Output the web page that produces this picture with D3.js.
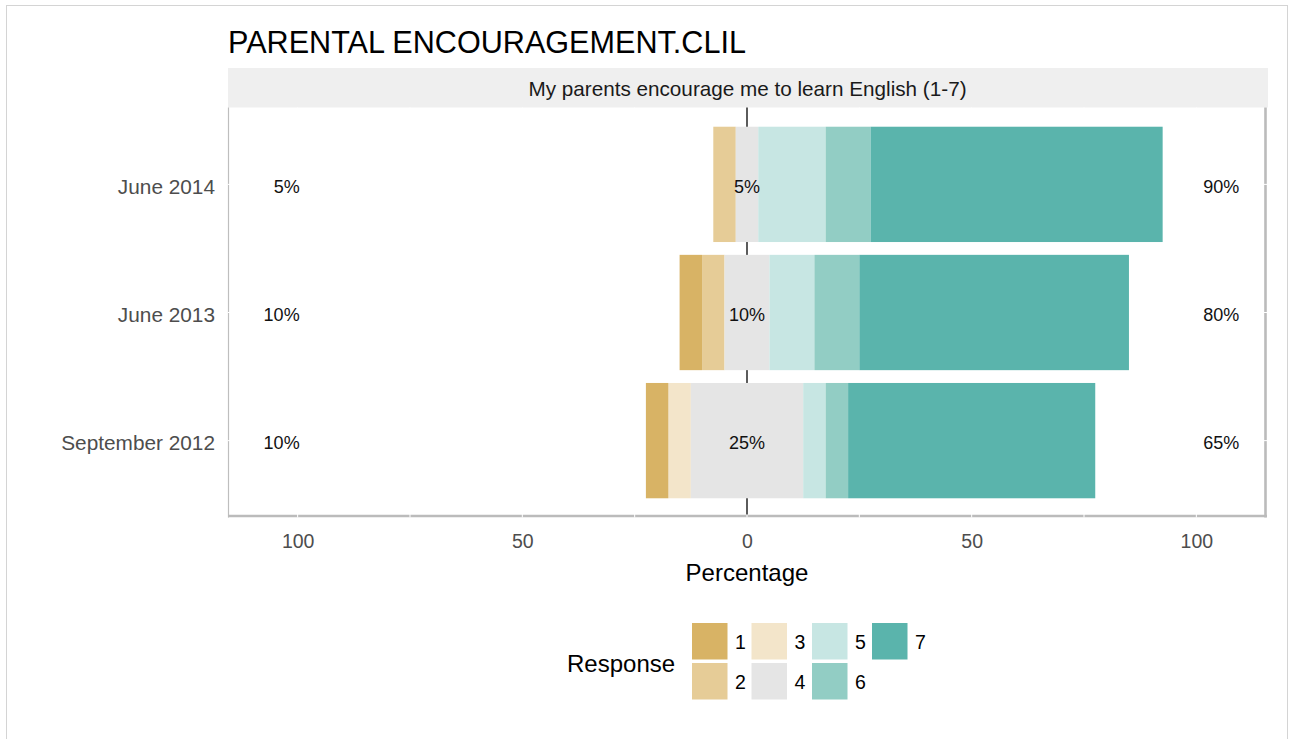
<!DOCTYPE html>
<html>
<head>
<meta charset="utf-8">
<script src="https://cdn.jsdelivr.net/npm/d3@7"></script>
<style>
  html, body { margin: 0; padding: 0; background: #ffffff; }
  svg { display: block; font-family: "Liberation Sans", Arial, sans-serif; }
</style>
</head>
<body>
<svg id="chart" width="1292" height="739"></svg>
<script>
// Survey waves (bottom to top) and share of answers per response level (%)
const categories = ["September 2012", "June 2013", "June 2014"];
const responses = ["1", "2", "3", "4", "5", "6", "7"];
const resp1 = [5, 5, 0];
const resp2 = [0, 5, 5];
const resp3 = [5, 0, 0];
const resp4 = [25, 10, 5];
const resp5 = [5, 10, 15];
const resp6 = [5, 10, 10];
const resp7 = [55, 60, 65];
const xTicks = [-100, -50, 0, 50, 100];
const colors = ["#D8B365", "#E6CC97", "#F3E5CA", "#E5E5E5", "#C7E6E3", "#92CDC4", "#5AB4AC"];
const titleText = "PARENTAL ENCOURAGEMENT.CLIL";
const stripText = "My parents encourage me to learn English (1-7)";

const series = [resp1, resp2, resp3, resp4, resp5, resp6, resp7];

const svg = d3.select("#chart");

// Outer frame
svg.append("rect")
  .attr("x", 6.5).attr("y", 5.5).attr("width", 1281).attr("height", 800)
  .attr("fill", "none").attr("stroke", "#D4D4D4").attr("stroke-width", 1);

const panel = { left: 228, right: 1267, top: 107.5, bottom: 517.5 };

const x = d3.scaleLinear().domain([-115.5, 115.5]).range([panel.left, panel.right - 1]);
const y = d3.scalePoint().domain(categories.slice().reverse())
  .range([panel.top, panel.bottom]).padding(0.6);
const barH = y.step() * 0.9;

// Title
svg.append("text")
  .attr("x", 228).attr("y", 53)
  .attr("font-size", 30.6).attr("fill", "#000")
  .text(titleText);

// Facet strip
svg.append("rect")
  .attr("x", panel.left).attr("y", 68).attr("width", panel.right - panel.left + 1).attr("height", panel.top - 68)
  .attr("fill", "#EFEFEF");
svg.append("text")
  .attr("x", (panel.left + panel.right) / 2).attr("y", 95.5)
  .attr("text-anchor", "middle").attr("font-size", 20.7).attr("fill", "#1A1A1A")
  .text(stripText);

// Panel border (light left edge, heavier bottom/right edge)
svg.append("line")
  .attr("x1", panel.left + 0.5).attr("x2", panel.left + 0.5)
  .attr("y1", panel.top).attr("y2", panel.bottom)
  .attr("stroke", "#BEBEBE").attr("stroke-width", 1.2);
svg.append("line")
  .attr("x1", panel.left).attr("x2", panel.right)
  .attr("y1", panel.bottom - 1.5).attr("y2", panel.bottom - 1.5)
  .attr("stroke", "#BBBBBB").attr("stroke-width", 2.6);
svg.append("line")
  .attr("x1", panel.right - 1.5).attr("x2", panel.right - 1.5)
  .attr("y1", panel.top).attr("y2", panel.bottom)
  .attr("stroke", "#BBBBBB").attr("stroke-width", 2.6);

// White grid lines (only show where they cross the border)
const grid = svg.append("g");
d3.range(-100, 101, 25).forEach(v => {
  grid.append("line")
    .attr("x1", x(v)).attr("x2", x(v))
    .attr("y1", panel.top).attr("y2", panel.bottom)
    .attr("stroke", "#fff").attr("stroke-width", 1);
});
categories.forEach(c => {
  grid.append("line")
    .attr("x1", panel.left).attr("x2", panel.right)
    .attr("y1", y(c)).attr("y2", y(c))
    .attr("stroke", "#fff").attr("stroke-width", 1);
});

// Zero reference line
svg.append("line")
  .attr("x1", x(0)).attr("x2", x(0))
  .attr("y1", panel.top).attr("y2", panel.bottom - 3)
  .attr("stroke", "#333").attr("stroke-width", 1.6);

// Diverging stacked bars: levels 1-3 to the left, 4 centred, 5-7 to the right
const segments = [];
categories.forEach((c, i) => {
  const neutral = resp4[i];
  let left = -neutral / 2;
  for (let k = 2; k >= 0; k--) {
    const v = series[k][i];
    if (v > 0) segments.push({ cat: c, k, x0: left - v, x1: left });
    left -= v;
  }
  segments.push({ cat: c, k: 3, x0: -neutral / 2, x1: neutral / 2 });
  let right = neutral / 2;
  for (let k = 4; k < 7; k++) {
    const v = series[k][i];
    if (v > 0) segments.push({ cat: c, k, x0: right, x1: right + v });
    right += v;
  }
});

svg.append("g").selectAll("rect").data(segments).join("rect")
  .attr("x", d => x(d.x0))
  .attr("width", d => x(d.x1) - x(d.x0))
  .attr("y", d => y(d.cat) - barH / 2)
  .attr("height", barH)
  .attr("fill", d => colors[d.k]);

// Percentage labels: low (1-3), neutral (4), high (5-7)
const lbl = svg.append("g").attr("font-size", 18).attr("fill", "#111");
categories.forEach((c, i) => {
  const low = resp1[i] + resp2[i] + resp3[i];
  const high = resp5[i] + resp6[i] + resp7[i];
  const yy = y(c) + 8.5;
  lbl.append("text").attr("x", x(-100) + 2).attr("y", yy).attr("text-anchor", "end").text(low + "%");
  lbl.append("text").attr("x", x(0)).attr("y", yy).attr("text-anchor", "middle").text(resp4[i] + "%");
  lbl.append("text").attr("x", x(100) + 7).attr("y", yy).attr("text-anchor", "start").text(high + "%");
});

// Y axis labels
const yAxis = svg.append("g")
  .attr("transform", `translate(${panel.left - 4},2.5)`)
  .call(d3.axisLeft(y).tickSize(0).tickPadding(9));
yAxis.select(".domain").remove();
yAxis.selectAll("text")
  .attr("font-size", 20.8).attr("fill", "#4D4D4D")
  .attr("font-family", "Liberation Sans, Arial, sans-serif");

// X axis labels (absolute values)
const xAxis = svg.append("g")
  .attr("transform", `translate(0,${panel.bottom})`)
  .call(d3.axisBottom(x).tickValues(xTicks).tickSize(0).tickPadding(17)
    .tickFormat(d => Math.abs(d)));
xAxis.select(".domain").remove();
xAxis.selectAll("text")
  .attr("font-size", 19.5).attr("fill", "#4D4D4D")
  .attr("font-family", "Liberation Sans, Arial, sans-serif");

svg.append("text")
  .attr("x", x(0)).attr("y", 581)
  .attr("text-anchor", "middle").attr("font-size", 24).attr("fill", "#000")
  .text("Percentage");

// Legend
const leg = svg.append("g");
leg.append("text")
  .attr("x", 567).attr("y", 672)
  .attr("font-size", 24).attr("fill", "#000")
  .text("Response");
const keyW = 35.5, keyH = 36.5;
const colX = [692, 751.5, 812, 872];
const rowY = [623, 663];
responses.forEach((r, k) => {
  const cx = colX[Math.floor(k / 2)];
  const ry = rowY[k % 2];
  leg.append("rect")
    .attr("x", cx).attr("y", ry).attr("width", keyW).attr("height", keyH)
    .attr("fill", colors[k]);
  leg.append("text")
    .attr("x", cx + keyW + 7.5).attr("y", ry + keyH / 2 + 7.5)
    .attr("font-size", 19.5).attr("fill", "#000")
    .text(r);
});
</script>
</body>
</html>
